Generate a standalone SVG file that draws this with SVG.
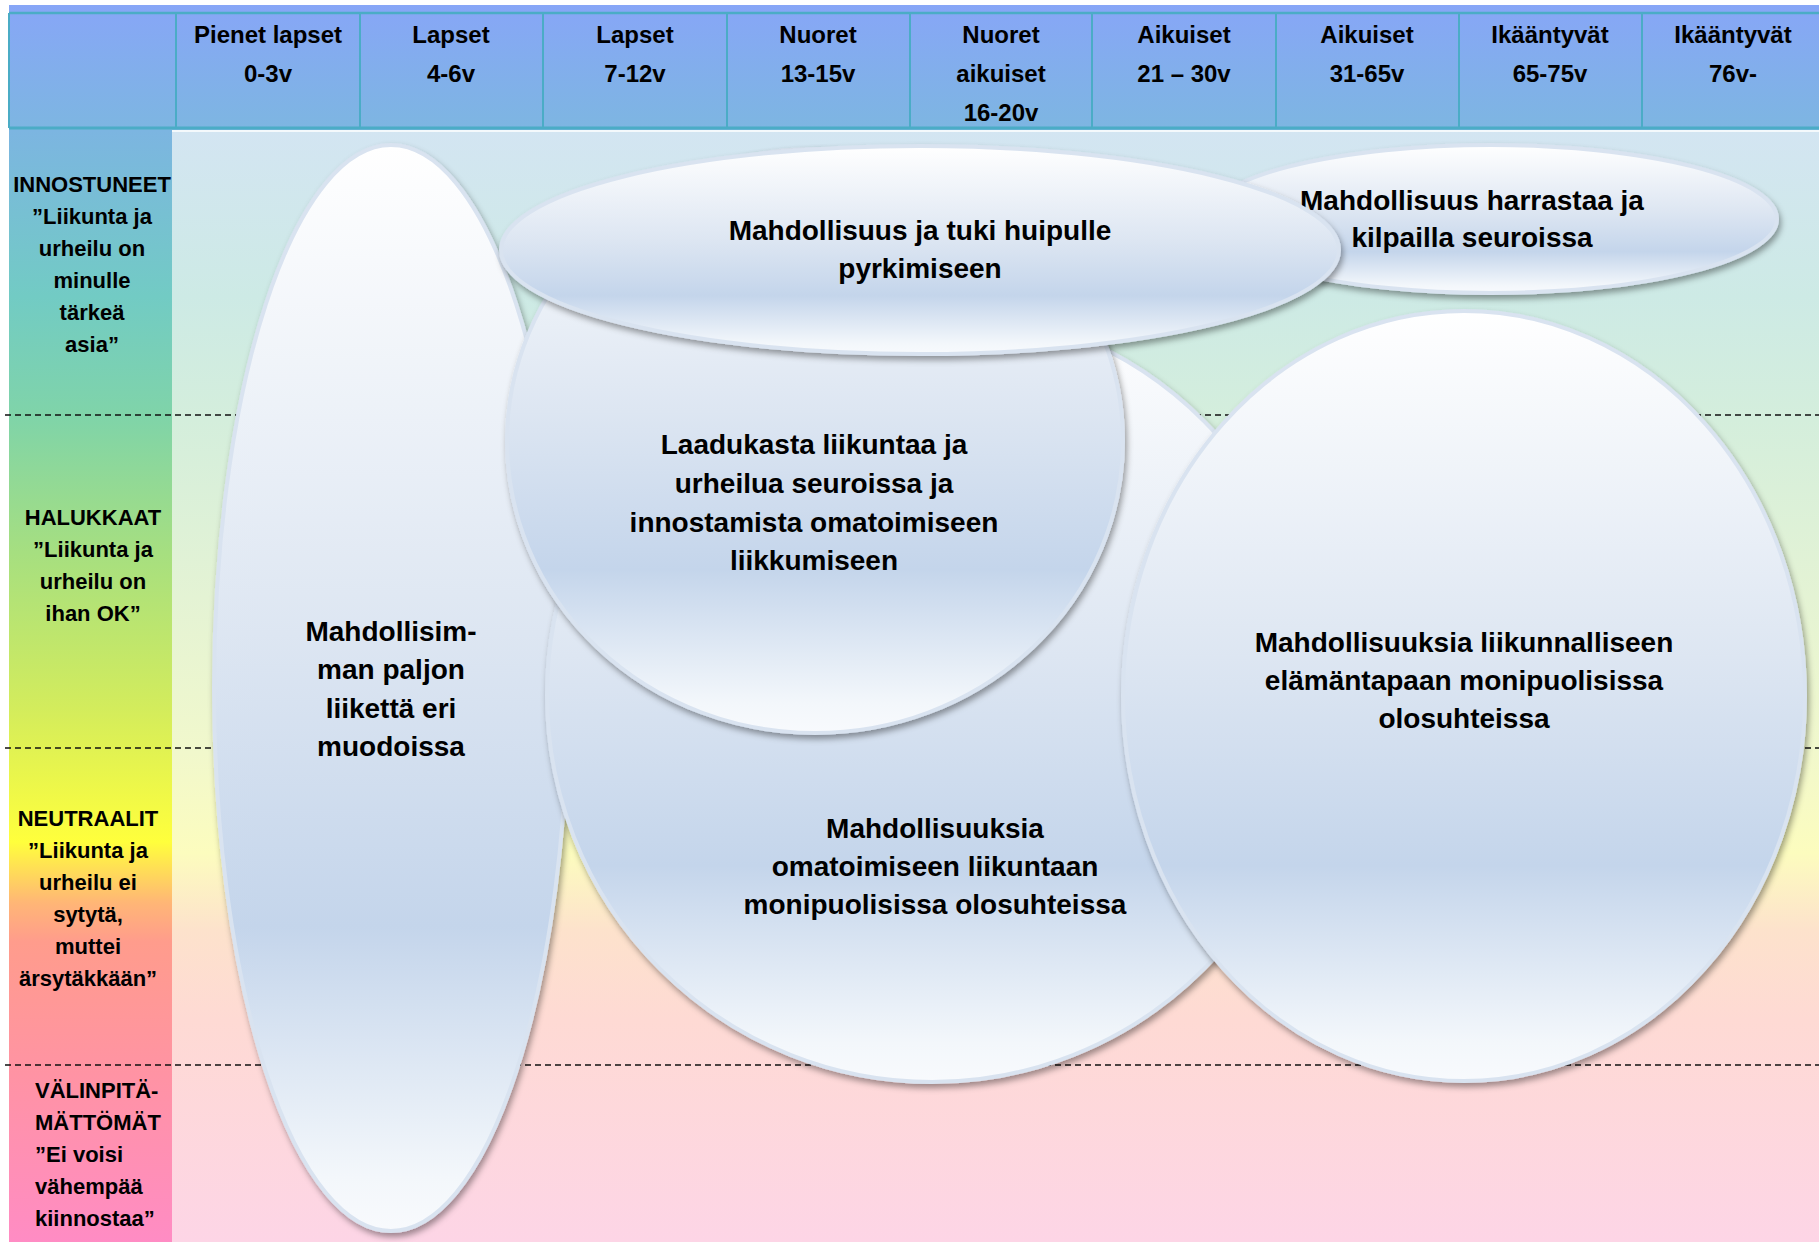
<svg xmlns="http://www.w3.org/2000/svg" width="1819" height="1242" viewBox="0 0 1819 1242">
<defs>
<linearGradient id="hdr" x1="0" y1="0" x2="0" y2="1">
<stop offset="0" stop-color="#87a6f7"/><stop offset="1" stop-color="#7db6e1"/>
</linearGradient>
<linearGradient id="lcol" gradientUnits="userSpaceOnUse" x1="0" y1="130" x2="0" y2="1242">
<stop offset="0" stop-color="#7cb5e1"/>
<stop offset="0.15" stop-color="#72cbc4"/>
<stop offset="0.26" stop-color="#80d4a8"/>
<stop offset="0.38" stop-color="#a6df80"/>
<stop offset="0.52" stop-color="#d3ec5c"/>
<stop offset="0.64" stop-color="#ffff3c"/>
<stop offset="0.695" stop-color="#ffb676"/>
<stop offset="0.73" stop-color="#ff9c8c"/>
<stop offset="0.85" stop-color="#ff93a4"/>
<stop offset="1" stop-color="#ff8cc4"/>
</linearGradient>
<linearGradient id="bg" gradientUnits="userSpaceOnUse" x1="0" y1="130" x2="0" y2="1242">
<stop offset="0" stop-color="#d3e5f2"/>
<stop offset="0.15" stop-color="#cdeae5"/>
<stop offset="0.26" stop-color="#d4eedc"/>
<stop offset="0.42" stop-color="#e4f3d4"/>
<stop offset="0.56" stop-color="#f1f8cc"/>
<stop offset="0.65" stop-color="#fcfcbe"/>
<stop offset="0.72" stop-color="#fde2cc"/>
<stop offset="0.8" stop-color="#fedad4"/>
<stop offset="1" stop-color="#fdd5e6"/>
</linearGradient>
<linearGradient id="eg" x1="0" y1="0" x2="0" y2="1">
<stop offset="0" stop-color="#ffffff"/>
<stop offset="0.45" stop-color="#dde6f2"/>
<stop offset="0.72" stop-color="#c4d5eb"/>
<stop offset="0.95" stop-color="#f3f7fb"/>
<stop offset="1" stop-color="#f8fafd"/>
</linearGradient>
<filter id="sh" x="-10%" y="-10%" width="120%" height="120%">
<feDropShadow dx="2" dy="4" stdDeviation="3" flood-color="#000" flood-opacity="0.38"/>
</filter>
<style>
.e{fill:url(#eg);stroke:#d9e3f0;stroke-width:4;filter:url(#sh)}
.t{font-family:"Liberation Sans",Arial,sans-serif;font-weight:bold;fill:#000;text-anchor:middle}
.h{font-size:24px}
.l{font-size:22px}
.n{font-size:28px}
.dash{stroke:#111;stroke-width:1.6;stroke-dasharray:6 4;fill:none}
.hl{stroke:#4bacc6;fill:none}
</style>
</defs>
<rect width="1819" height="1242" fill="#ffffff"/>
<rect x="172" y="130" width="1647" height="1112" fill="url(#bg)"/>
<rect x="9" y="130" width="163" height="1112" fill="url(#lcol)"/>
<g id="header">
<rect x="9" y="5" width="1810" height="125" fill="url(#hdr)"/>
<line class="hl" x1="9" y1="13" x2="1819" y2="13" stroke-width="2.5"/>
<line class="hl" x1="9" y1="128" x2="1819" y2="128" stroke-width="3"/>
<line x1="172" y1="131" x2="1819" y2="131" stroke="#ffffff" stroke-width="1.5"/>
<g class="hl" stroke-width="2">
<line x1="9" y1="13" x2="9" y2="128"/>
<line x1="176" y1="13" x2="176" y2="128"/>
<line x1="360" y1="13" x2="360" y2="128"/>
<line x1="543" y1="13" x2="543" y2="128"/>
<line x1="727" y1="13" x2="727" y2="128"/>
<line x1="910" y1="13" x2="910" y2="128"/>
<line x1="1092" y1="13" x2="1092" y2="128"/>
<line x1="1276" y1="13" x2="1276" y2="128"/>
<line x1="1459" y1="13" x2="1459" y2="128"/>
<line x1="1642" y1="13" x2="1642" y2="128"/>
</g>
<g class="t h">
<text x="268" y="43">Pienet lapset</text><text x="268" y="82">0-3v</text>
<text x="451" y="43">Lapset</text><text x="451" y="82">4-6v</text>
<text x="635" y="43">Lapset</text><text x="635" y="82">7-12v</text>
<text x="818" y="43">Nuoret</text><text x="818" y="82">13-15v</text>
<text x="1001" y="43">Nuoret</text><text x="1001" y="82">aikuiset</text><text x="1001" y="121">16-20v</text>
<text x="1184" y="43">Aikuiset</text><text x="1184" y="82">21 – 30v</text>
<text x="1367" y="43">Aikuiset</text><text x="1367" y="82">31-65v</text>
<text x="1550" y="43">Ikääntyvät</text><text x="1550" y="82">65-75v</text>
<text x="1733" y="43">Ikääntyvät</text><text x="1733" y="82">76v-</text>
</g>
</g>
<g id="rows" class="t l">
<text x="92" y="192">INNOSTUNEET</text>
<text x="92" y="224">”Liikunta ja</text>
<text x="92" y="256">urheilu on</text>
<text x="92" y="288">minulle</text>
<text x="92" y="320">tärkeä</text>
<text x="92" y="352">asia”</text>
<text x="93" y="525">HALUKKAAT</text>
<text x="93" y="557">”Liikunta ja</text>
<text x="93" y="589">urheilu on</text>
<text x="93" y="621">ihan OK”</text>
<text x="88" y="826">NEUTRAALIT</text>
<text x="88" y="858">”Liikunta ja</text>
<text x="88" y="890">urheilu ei</text>
<text x="88" y="922">sytytä,</text>
<text x="88" y="954">muttei</text>
<text x="88" y="986">ärsytäkkään”</text>
<g style="text-anchor:start">
<text x="35" y="1098">VÄLINPITÄ-</text>
<text x="35" y="1130">MÄTTÖMÄT</text>
<text x="35" y="1162">”Ei voisi</text>
<text x="35" y="1194">vähempää</text>
<text x="35" y="1226">kiinnostaa”</text>
</g>
</g>
<g id="connectors">
<line class="dash" x1="5" y1="415" x2="1819" y2="415"/>
<line class="dash" x1="5" y1="748" x2="1819" y2="748"/>
<line class="dash" x1="5" y1="1065" x2="1819" y2="1065"/>
</g>
<g id="node-liikettä">
<ellipse class="e" cx="391" cy="688" rx="177" ry="543"/>
<g class="t n"><text x="391" y="641">Mahdollisim-</text><text x="391" y="679">man paljon</text><text x="391" y="718">liikettä eri</text><text x="391" y="756">muodoissa</text></g>
</g>
<g id="node-omatoimiseen">
<ellipse class="e" cx="932" cy="695" rx="385" ry="387"/>
<g class="t n"><text x="935" y="838">Mahdollisuuksia</text><text x="935" y="876">omatoimiseen liikuntaan</text><text x="935" y="914">monipuolisissa olosuhteissa</text></g>
</g>
<g id="node-laadukasta">
<ellipse class="e" cx="815" cy="441" rx="308" ry="292"/>
<g class="t n"><text x="814" y="454">Laadukasta liikuntaa ja</text><text x="814" y="493">urheilua seuroissa ja</text><text x="814" y="532">innostamista omatoimiseen</text><text x="814" y="570">liikkumiseen</text></g>
</g>
<g id="node-harrastaa">
<ellipse class="e" cx="1491" cy="219" rx="286" ry="74"/>
<g class="t n"><text x="1472" y="210">Mahdollisuus harrastaa ja</text><text x="1472" y="247">kilpailla seuroissa</text></g>
</g>
<g id="node-huipulle">
<ellipse class="e" cx="920" cy="250" rx="419" ry="104"/>
<g class="t n"><text x="920" y="240">Mahdollisuus ja tuki huipulle</text><text x="920" y="278">pyrkimiseen</text></g>
</g>
<g id="node-elamantapa">
<ellipse class="e" cx="1464" cy="696" rx="341" ry="385"/>
<g class="t n"><text x="1464" y="652">Mahdollisuuksia liikunnalliseen</text><text x="1464" y="690">elämäntapaan monipuolisissa</text><text x="1464" y="728">olosuhteissa</text></g>
</g>
</svg>
